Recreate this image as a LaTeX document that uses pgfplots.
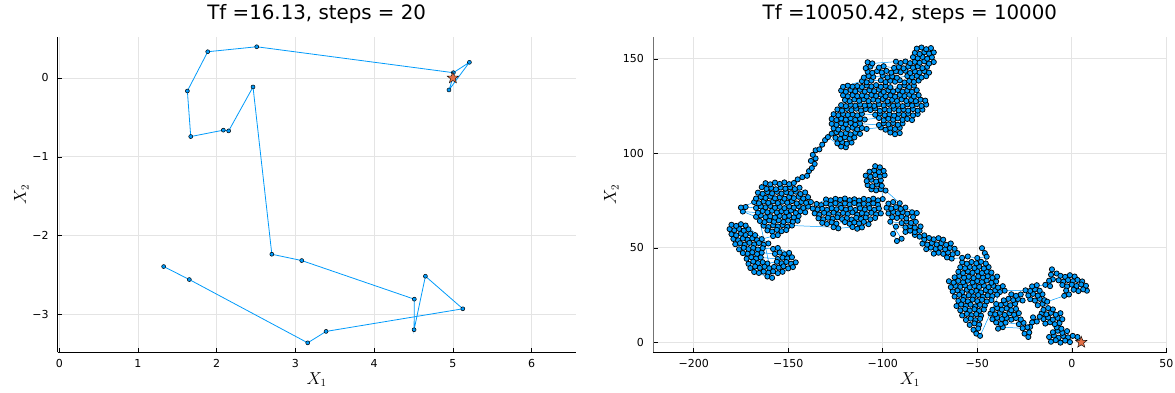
\documentclass[border=0pt]{standalone}
\usepackage[no-math]{fontspec}
\setmainfont{DejaVu Sans}
\usepackage{pgfplots}
\pgfplotsset{compat=1.18}
\definecolor{jblue}{RGB}{0,154,250}
\definecolor{jorange}{RGB}{227,111,70}
\definecolor{gridc}{RGB}{228,228,228}
\pgfdeclareplotmark{fstar}{%
  \pgfpathmoveto{\pgfpointpolar{90}{\pgfplotmarksize}}%
  \pgfpathlineto{\pgfpointpolar{126}{0.42\pgfplotmarksize}}%
  \pgfpathlineto{\pgfpointpolar{162}{\pgfplotmarksize}}%
  \pgfpathlineto{\pgfpointpolar{198}{0.42\pgfplotmarksize}}%
  \pgfpathlineto{\pgfpointpolar{234}{\pgfplotmarksize}}%
  \pgfpathlineto{\pgfpointpolar{270}{0.42\pgfplotmarksize}}%
  \pgfpathlineto{\pgfpointpolar{306}{\pgfplotmarksize}}%
  \pgfpathlineto{\pgfpointpolar{342}{0.42\pgfplotmarksize}}%
  \pgfpathlineto{\pgfpointpolar{18}{\pgfplotmarksize}}%
  \pgfpathlineto{\pgfpointpolar{54}{0.42\pgfplotmarksize}}%
  \pgfpathclose\pgfusepathqfillstroke}
\pgfplotsset{jstyle/.style={
  scale only axis, height=315pt,
  axis lines*=left, axis line style={-, line width=0.8pt, black},
  tick align=inside, major tick length=4.5pt, tick style={black, line width=0.6pt},
  grid=major, major grid style={gridc, line width=0.7pt},
  tick label style={font=\fontsize{11}{12}\selectfont},
  xticklabel style={inner sep=0pt, anchor=north, yshift=-7pt},
  yticklabel style={inner sep=0pt, anchor=east, xshift=-9pt},
  title style={font=\fontsize{19.8}{22}\selectfont, at={(axis description cs:0.5,1.0359)}, anchor=base},
  xlabel style={font=\fontsize{16}{18}\selectfont, at={(axis description cs:0.5,-0.1016)}, anchor=base},
  ylabel style={font=\fontsize{16}{18}\selectfont, anchor=base, rotate=0},
}}
\begin{document}
\begin{tikzpicture}
\path[use as bounding box] (0,0) rectangle (1175pt,392pt);
\begin{axis}[jstyle, at={(57.7pt,39.7pt)}, anchor=south west, width=518pt,
  xmin=-0.02, xmax=6.56, ymin=-3.48, ymax=0.516,
  xtick={0,1,2,3,4,5,6}, xticklabels={0,1,2,3,4,5,6},
  ytick={-3,-2,-1,0}, yticklabels={−3,−2,−1,0},
  title={Tf =16.13, steps = 20},
  xlabel={$X_1$}, ylabel={$X_2$},
  ylabel style={at={(axis description cs:-0.0612,0.5)}}]
\addplot[color=jblue, line width=0.8pt, mark=*, mark size=2pt,
  mark options={fill=jblue, draw=black, line width=0.5pt}] coordinates {
(5.00,0.00) (4.95,-0.152) (5.21,0.199) (5.006,0.067) (2.508,0.396) (1.886,0.333)
(1.627,-0.165) (1.67,-0.743) (2.084,-0.662) (2.152,-0.671) (2.461,-0.114)
(2.70,-2.236) (3.08,-2.316) (4.51,-2.806) (4.507,-3.194) (4.651,-2.515)
(5.126,-2.928) (3.389,-3.215) (3.156,-3.36) (1.652,-2.557) (1.326,-2.392)};
\addplot[only marks, mark=fstar, mark size=6pt,
  mark options={fill=jorange, draw=black, line width=0.4pt}] coordinates {(5,0)};
\end{axis}
\begin{axis}[jstyle, at={(653pt,39.7pt)}, anchor=south west, width=513.7pt,
  xmin=-221.5, xmax=50.2, ymin=-5.3, ymax=161.4,
  xtick={-200,-150,-100,-50,0,50}, xticklabels={−200,−150,−100,−50,0,50},
  ytick={0,50,100,150}, yticklabels={0,50,100,150},
  y axis line style={draw=black!55},
  title={Tf =10050.42, steps = 10000},
  xlabel={$X_1$}, ylabel={$X_2$},
  ylabel style={at={(axis description cs:-0.0721,0.5)}}]
\addplot[color=jblue, line width=0.5pt, mark=*, mark size=2.6pt,
  mark options={fill=jblue, draw=black, line width=0.75pt}] coordinates {
(5,0) (3,2.8) (0.5,3.4) (-2,2.6) (-4.5,3.3) (-7,2.4) (-9.5,3.6) (-12,2.8)
(-11,0.3) (-8.5,1.1) (-6,-0.2) (-3.5,0.9) (-1,0.1)
(-2.5,5.9) (-5,5.0) (-7.5,6.1) (-10,5.3)
(-8,7.9) (-5.5,7.2)
(-6.5,10.2) (-9,9.6) (-11.5,10.6) (-14,9.9)
(-15,12.3) (-12.5,13.1) (-10,12.0) (-7.5,12.9) (-5,12.2)
(-6,15.4) (-8.5,14.6) (-11,15.6) (-13.5,14.8) (-16,15.3)
(-15,17.2) (-12.5,18.1) (-10,17.4)
(-15.5,20.3) (-18,19.6)
(-22,22.8) (-19.5,22.1) (-17,23.0) (-14.5,22.3)
(-15.5,25.4) (-18,24.7) (-20.5,25.6) (-23,24.8)
(-22,27.2) (-19.5,28.0) (-17,27.3)
(-18.5,30.2) (-21,29.6)
(-14,30.4) (-11.5,29.7)
(-10,33.3) (-12,32.6)
(-11,35.8) (-10.5,38.6) (-8,36.4)
(-6,35.2) (-3.5,34.6) (-1,35.5) (1.5,34.8)
(5.5,32.2) (3,33.0) (0.5,32.3) (-2,32.9) (-4.5,32.1) (-7,32.8)
(-5,30.3) (-2.5,29.6) (0,30.5) (2.5,29.8) (5,30.6) (7.5,29.9)
(8,27.3) (6,28.0) (3.5,27.1) (1,27.8) (-3,27.4)
(-1.5,25.3) (-4,24.6)
(-13,21.5) (-17,13.5) (-18.5,11.0) (-20.5,13.2) (-21,10.5) (-22,8.2)
(-23,2.8) (-25,4.6) (-22.5,5.2)
(-23.5,7.9) (-26,7.4) (-36.5,8.0) (-39,7.2)
(-40,10.5) (-37.5,9.7) (-35,10.4) (-28,9.6) (-25.5,10.3)
(-27,12.1) (-29.5,12.8) (-32,12.0) (-34.5,12.9) (-37,12.3) (-39.5,13.0) (-42,12.2)
(-43,15.2) (-40.5,14.8) (-38,15.6) (-35.5,14.5) (-33,15.3) (-30.5,14.6) (-28,15.4)
(-29.5,17.7) (-32,17.0) (-34.5,17.9) (-37,17.3) (-39.5,18.1) (-42,17.2)
(-40,20.3) (-37.5,19.8) (-35,20.5) (-32.5,19.6) (-30,20.4)
(-26,22.1) (-28.5,22.9) (-31,22.3) (-33.5,23.0) (-36,22.2)
(-32,25.4) (-29.5,24.6) (-27,25.3) (-24.5,27.5)
(-35.5,27.3) (-38,26.6) (-40.5,27.5) (-43,26.8) (-45.5,27.6) (-48,26.4) (-50.5,27.2) (-53,26.7) (-55.5,27.8) (-58,26.5) (-60.5,27.4) (-63,26.9)
(-62,24.2) (-59.5,25.1) (-57,24.0) (-54.5,24.9) (-52,24.3) (-49.5,25.0) (-47,24.1) (-44.5,24.8) (-42,24.4) (-39.5,25.2)
(-42.5,22.3) (-45,21.6) (-47.5,22.5) (-50,21.8) (-52.5,22.6) (-55,21.7) (-57.5,22.4) (-60,21.9)
(-61,19.2) (-58.5,20.0) (-56,19.3) (-53.5,19.9) (-51,19.0) (-48.5,19.8) (-46,19.4)
(-46.5,17.3) (-49,16.6) (-51.5,17.5) (-54,16.8) (-56.5,17.6) (-59,16.9)
(-58,14.2) (-55.5,15.0) (-53,14.3) (-50.5,14.9) (-48,14.1)
(-48.5,12.4) (-51,11.7) (-53.5,12.5) (-56,11.8)
(-54,9.2) (-51.5,10.0) (-49,9.3)
(-49.5,7.3) (-52,6.6) (-50.5,4.6) (-48.5,3.4)
(-36.5,29.7) (-39,29.0) (-41.5,29.9) (-44,29.2) (-46.5,30.0) (-49,29.3) (-51.5,29.8) (-54,29.1) (-56.5,30.1) (-59,29.4) (-61.5,29.9) (-64,29.2)
(-65,32.3) (-62.5,31.6) (-60,32.5) (-57.5,31.8) (-55,32.6) (-52.5,31.7) (-50,32.4) (-47.5,31.9) (-45,32.7) (-42.5,31.5) (-40,32.2)
(-39.5,34.8) (-42,34.1) (-44.5,35.0) (-47,34.3) (-49.5,34.9) (-52,34.0) (-54.5,34.7) (-57,34.2) (-59.5,35.1) (-62,34.4)
(-60,37.3) (-57.5,36.6) (-55,37.5) (-52.5,36.8) (-50,37.6) (-47.5,36.7) (-45,37.4) (-42.5,36.9)
(-44,39.8) (-46.5,39.1) (-49,40.0) (-51.5,39.3) (-54,39.9) (-56.5,39.2) (-59,39.7)
(-58,42.3) (-55.5,41.6) (-53,42.5) (-50.5,41.8) (-48,42.6) (-45.5,41.7)
(-46,47.2) (-47.5,49.8) (-45,45.3)
(-50,44.6) (-55,45.4) (-58,44.7)
(-63.5,44.3) (-66,44.9)
(-60.5,47.2) (-63,46.6) (-65.5,47.5) (-68,46.8) (-70.5,47.4) (-73,46.9)
(-77,49.3) (-74.5,50.1) (-72,49.4) (-69.5,50.0) (-67,49.2) (-64.5,49.9) (-62,49.5)
(-64,52.3) (-66.5,51.6) (-69,52.5) (-71.5,51.8) (-74,52.6) (-76.5,51.7) (-79,52.2)
(-78,54.4) (-75.5,55.2) (-73,54.5) (-70.5,55.1) (-68,54.3)
(-78,56.6) (-80.5,55.9) (-83,56.8)
(-88,58.4) (-85.5,59.1) (-83,58.3) (-80.5,59.0)
(-80,61.3) (-83,60.7) (-85.5,61.5) (-88,60.8) (-93,61.2)
(-94.5,57.4) (-92.5,53.6) (-90,54.8)
(-96,63.8) (-90,63.1) (-87.5,63.9) (-85,63.2) (-82.5,63.7)
(-84,66.3) (-87.5,65.6) (-90,66.4) (-92.5,65.8) (-95,66.2)
(-97,68.2) (-94.5,69.0) (-92,68.3) (-89.5,68.9) (-87,68.1) (-84.5,68.8) (-82,68.4)
(-88,71.3) (-90.5,70.6) (-93,71.5) (-95.5,70.8) (-98,71.2)
(-97,73.4) (-94.5,74.2) (-91,73.6)
(-98.5,80.3) (-101,81.0) (-103.5,80.4) (-106,80.9)
(-108,83.2) (-105.5,82.6) (-103,83.5) (-100.5,82.8)
(-101,85.7) (-103.5,85.1) (-106,86.0) (-108.5,85.3)
(-109,88.2) (-106.5,87.6) (-104,88.5) (-101.5,87.8) (-99,88.4)
(-99.5,90.7) (-102,90.1) (-104.5,91.0) (-107,90.3)
(-104,93.2) (-101.5,92.6)
(-100,75.8) (-102.5,75.1) (-105,76.0) (-107.5,75.3) (-110,75.9) (-112.5,75.0) (-115,75.7) (-117.5,75.2) (-120,76.1) (-122.5,75.4) (-125,75.9) (-127.5,75.1) (-130,75.6)
(-135,73.2) (-132.5,72.6) (-130,73.5) (-127.5,72.8) (-125,73.6) (-122.5,72.7) (-120,73.4) (-117.5,72.9) (-115,73.7) (-112.5,72.5) (-110,73.3) (-107.5,72.8) (-105,73.5) (-102.5,72.7)
(-102,70.8) (-104.5,70.1) (-107,71.0) (-109.5,70.3) (-112,70.9) (-114.5,70.0) (-117,70.7) (-119.5,70.2) (-122,71.1) (-124.5,70.4) (-127,70.9) (-129.5,70.1) (-132,70.6) (-134.5,70.3) (-137,70.8)
(-136,68.2) (-133.5,67.6) (-131,68.5) (-128.5,67.8) (-126,68.6) (-123.5,67.7) (-121,68.4) (-118.5,67.9) (-116,68.7) (-113.5,67.5) (-111,68.3) (-108.5,67.8) (-106,68.5) (-103.5,67.7) (-101,68.2)
(-104,65.8) (-106.5,65.1) (-109,66.0) (-111.5,65.3) (-114,65.9) (-116.5,65.0) (-119,65.7) (-121.5,65.2) (-124,66.1) (-126.5,65.4) (-129,65.9) (-131.5,65.1) (-134,65.6)
(-132,63.2) (-129.5,62.6) (-127,63.5) (-124.5,62.8) (-120,63.6) (-117.5,62.7) (-115,63.4) (-112.5,62.9) (-110,63.7) (-107.5,62.5)
(-111,60.8) (-113.5,60.1) (-116,61.0) (-123.5,60.3) (-126,60.9)
(-148,61.8) (-150.5,61.1) (-153,62.0) (-155.5,61.3) (-158,61.9) (-160.5,61.0) (-163,61.7)
(-161,59.2) (-158.5,58.6) (-156,59.5) (-153.5,58.8) (-151,59.4)
(-155.5,56.7) (-158,56.2)
(-164,54.6) (-166.5,54.1) (-169,55.0) (-171.5,54.3) (-174,54.9) (-176.5,54.0) (-179,54.7)
(-180,57.2) (-177.5,56.6) (-175,57.5) (-172.5,56.8) (-170,57.6) (-167.5,56.7)
(-171,59.8) (-173.5,59.1) (-176,60.0) (-178.5,59.3) (-181,59.9)
(-180,62.2) (-177.5,61.6) (-175,62.5) (-172.5,61.8)
(-160.5,52.3) (-163,51.6) (-165.5,52.5) (-168,51.8) (-170.5,52.6) (-173,51.7) (-175.5,52.4) (-178,51.9)
(-176,49.2) (-173.5,50.0) (-171,49.3) (-168.5,49.9) (-166,49.1) (-163.5,49.8) (-158,49.4) (-155.5,49.9)
(-149.5,47.3) (-152,46.6) (-154.5,47.5) (-157,46.8) (-164,47.4) (-166.5,46.7) (-169,47.6) (-171.5,46.9) (-174,47.2)
(-172,44.2) (-169.5,45.0) (-167,44.3) (-164.5,44.9) (-155.5,44.1) (-153,44.8) (-150.5,44.4) (-148,45.0)
(-146,42.3) (-148.5,41.6) (-151,42.5) (-153.5,41.8) (-156,42.6) (-161,41.7) (-163.5,42.4) (-166,41.9) (-168.5,42.7) (-171,41.5)
(-170,39.3) (-167.5,40.1) (-165,39.4) (-162.5,40.0) (-160,39.2) (-157.5,39.9) (-155,39.5) (-152.5,40.2) (-150,39.1) (-147.5,39.8)
(-153,37.3) (-155.5,36.6) (-158,37.5) (-160.5,36.8) (-163,37.4) (-165.5,36.7) (-168,37.2)
(-161,34.8) (-158.5,34.1)
(-165,64.2) (-162.5,63.6) (-160,64.5) (-157.5,63.8) (-155,64.6) (-152.5,63.7) (-150,64.4) (-147.5,63.9) (-145,64.3)
(-144.5,66.8) (-147,66.1) (-149.5,67.0) (-152,66.3) (-154.5,66.9) (-157,66.0) (-159.5,66.7) (-162,66.2) (-164.5,67.1) (-167,66.4)
(-174,69.2) (-166,68.6) (-163.5,69.5) (-161,68.8) (-158.5,69.6) (-156,68.7) (-153.5,69.4) (-151,68.9) (-148.5,69.7) (-146,68.5) (-143.5,69.3) (-141,68.8)
(-139.5,71.8) (-142,71.1) (-144.5,72.0) (-147,71.3) (-149.5,71.9) (-152,71.0) (-154.5,71.7) (-157,71.2) (-159.5,72.1) (-162,71.4) (-164.5,71.9) (-167,71.1) (-172.5,71.6) (-175,71.3)
(-168,74.2) (-165.5,73.6) (-163,74.5) (-160.5,73.8) (-158,74.6) (-155.5,73.7) (-153,74.4) (-150.5,73.9) (-148,74.7) (-145.5,73.5) (-143,74.3) (-140.5,73.8) (-138,74.2)
(-139.5,76.8) (-142,76.1) (-144.5,77.0) (-147,76.3) (-149.5,76.9) (-152,76.0) (-154.5,76.7) (-157,76.2) (-159.5,77.1) (-162,76.4) (-164.5,76.9) (-167,76.1)
(-166,79.2) (-163.5,78.6) (-161,79.5) (-158.5,78.8) (-156,79.6) (-153.5,78.7) (-151,79.4) (-148.5,78.9) (-146,79.7) (-143.5,78.5) (-141,79.3)
(-144,81.8) (-146.5,81.1) (-149,82.0) (-151.5,81.3) (-154,81.9) (-156.5,81.0) (-159,81.7) (-161.5,81.2) (-164,82.1)
(-162,84.2) (-159.5,83.6) (-157,84.5) (-154.5,83.8) (-152,84.6) (-149.5,83.7) (-147,84.3)
(-145,86.2) (-142.5,87.4) (-140,88.1) (-139,90.6) (-137.5,92.2) (-136,94.4) (-138,96.0) (-135.5,97.3) (-137,99.2) (-135.5,101.6) (-133.5,102.1) (-132,104.6) (-130.5,107.0) (-129,108.6)
(-122,103.6) (-119.5,103.2)
(-116.5,105.7) (-119,105.1) (-121.5,106.0) (-124,105.3)
(-125,108.2) (-122.5,107.6) (-120,108.5) (-117.5,107.8) (-115,108.4)
(-112,110.3) (-114.5,110.9) (-117,110.0) (-119.5,110.7) (-122,110.2) (-124.5,111.1) (-127,110.4)
(-126,113.2) (-123.5,112.6) (-121,113.5) (-118.5,112.8) (-116,113.6) (-113.5,112.7) (-111,113.4) (-108.5,112.9) (-101,113.7) (-98.5,112.5) (-96,113.3) (-93.5,112.8) (-91,113.5)
(-91,110.7) (-93.5,110.1) (-96,111.0)
(-89.5,115.8) (-92,115.1) (-94.5,116.0) (-97,115.3) (-99.5,115.9) (-102,115.0) (-112,115.7) (-114.5,115.2) (-117,116.1) (-119.5,115.4) (-122,115.9) (-124.5,115.1) (-127,115.6)
(-127,118.2) (-124.5,117.6) (-122,118.5) (-119.5,117.8) (-117,118.6) (-114.5,117.7) (-112,118.4) (-109.5,117.9) (-102,118.7) (-99.5,117.5) (-97,118.3) (-94.5,117.8) (-92,118.5) (-89.5,117.7) (-87,118.2) (-84.5,117.6)
(-81.5,120.8) (-84,120.1) (-86.5,121.0) (-89,120.3) (-91.5,120.9) (-94,120.0) (-96.5,120.7) (-99,120.2) (-101.5,121.1) (-104,120.4) (-111,120.9) (-113.5,120.1) (-116,120.6) (-118.5,120.3) (-121,120.8) (-123.5,120.2) (-126,120.7)
(-124,123.2) (-121.5,122.6) (-119,123.5) (-116.5,122.8) (-114,123.6) (-111.5,122.7) (-109,123.4) (-106.5,122.9) (-104,123.7) (-101.5,122.5) (-99,123.3) (-96.5,122.8) (-94,123.5) (-91.5,122.7) (-89,123.2) (-86.5,122.6) (-84,123.4) (-81.5,122.6) (-79,123.1)
(-77,125.8) (-79.5,125.1) (-82,126.0) (-84.5,125.3) (-87,125.9) (-89.5,125.0) (-92,125.7) (-94.5,125.2) (-97,126.1) (-99.5,125.4) (-102,125.9) (-104.5,125.1) (-107,125.6) (-109.5,125.3) (-112,125.8) (-114.5,125.2) (-117,125.7) (-119.5,125.0) (-122,125.5)
(-120,128.2) (-117.5,127.6) (-115,128.5) (-112.5,127.8) (-110,128.6) (-107.5,127.7) (-105,128.4) (-102.5,127.9) (-100,128.7) (-97.5,127.5) (-95,128.3) (-92.5,127.8) (-90,128.5) (-87.5,127.7) (-85,128.2) (-82.5,127.6) (-80,128.4) (-77.5,127.9)
(-81,130.8) (-83.5,130.1) (-86,131.0) (-88.5,130.3) (-91,130.9) (-93.5,130.0) (-96,130.7) (-98.5,130.2) (-101,131.1) (-103.5,130.4) (-106,130.9) (-108.5,130.1) (-111,130.6) (-113.5,130.3) (-116,130.8) (-118.5,130.2) (-121,130.7)
(-122,133.2) (-119.5,132.6) (-117,133.5) (-114.5,132.8) (-112,133.6) (-109.5,132.7) (-107,133.4) (-104.5,132.9) (-102,133.7) (-99.5,132.5) (-97,133.3) (-94.5,132.8) (-92,133.5) (-89.5,132.7) (-87,133.2) (-84.5,132.6) (-82,133.4)
(-83.5,135.8) (-86,135.1) (-88.5,136.0) (-91,135.3) (-96,135.0) (-98.5,135.7) (-101,135.2) (-103.5,136.1) (-106,135.4) (-108.5,135.9) (-111,135.1) (-113.5,135.6) (-116,135.3) (-118.5,135.8) (-121,135.2)
(-111,138.2) (-108.5,137.6) (-106,138.5) (-101,138.6) (-98.5,137.7) (-96,138.4) (-93.5,137.9) (-91,138.7) (-88.5,137.5) (-86,138.3) (-83.5,137.8) (-81,138.5)
(-77,140.8) (-79.5,140.1) (-82,141.0) (-84.5,140.3) (-87,140.9) (-92.5,140.0) (-95,140.7) (-97.5,140.2) (-100,141.1) (-105,140.4) (-107.5,140.9) (-110,140.1)
(-108,143.2) (-105.5,142.6) (-103,143.5) (-100.5,142.8) (-98,143.6) (-95.5,142.7) (-93,143.4) (-90.5,142.9) (-88,143.7) (-85.5,142.5) (-83,143.3) (-80.5,142.8) (-78,143.5) (-75.5,142.7)
(-76.5,145.8) (-79,145.1) (-81.5,146.0) (-84,145.3) (-86.5,145.9) (-89,145.0) (-91.5,145.7) (-94,145.2) (-99.5,146.1) (-102,145.4) (-106.5,145.9) (-109,145.1)
(-108,148.2) (-105.5,147.6) (-93,148.5) (-90.5,147.8) (-88,148.6) (-85.5,147.7) (-83,148.4) (-80.5,147.9) (-78,148.7) (-75.5,147.5) (-73,148.3)
(-74,150.8) (-76.5,150.1) (-79,151.0) (-81.5,150.3) (-84,150.9)
(-83,153.2) (-80.5,152.6) (-78,153.5) (-75.5,152.8) (-73,153.4)
(-74.5,155.7) (-77,155.1) (-79.5,156.0) (-82,155.4)};
\addplot[only marks, mark=fstar, mark size=6pt,
  mark options={fill=jorange, draw=black, line width=0.4pt}] coordinates {(5,0)};
\end{axis}
\end{tikzpicture}
\end{document}
